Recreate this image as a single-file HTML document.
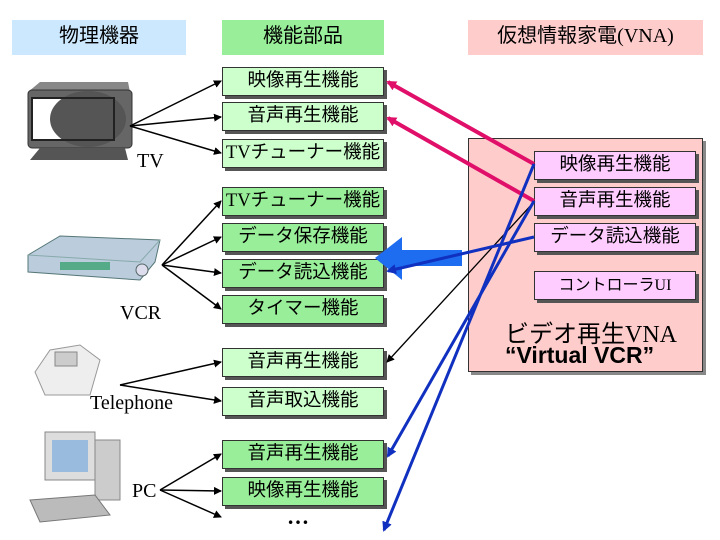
<!DOCTYPE html>
<html><head><meta charset="utf-8"><style>
body{margin:0;width:720px;height:540px;background:#fff;position:relative;overflow:hidden;font-family:"Liberation Serif","Noto Sans CJK JP",serif}
.b{position:absolute;box-sizing:border-box;border:1px solid #333;box-shadow:3px 3px 0 #555;text-align:center;font-family:"Liberation Serif","Noto Sans CJK JP",sans-serif;font-size:18.5px;color:#000;white-space:nowrap}
.g{left:222px;width:162px;height:29px;line-height:27px}
.l{background:#ccffcc}.d{background:#99ee99}
.p{left:534px;width:162px;height:29px;line-height:27px;background:#ffccff}
.t{position:absolute;font-size:20px;font-family:"Liberation Serif","Noto Sans CJK JP",serif;white-space:nowrap}
</style></head><body>
<div class="b" style="left:12px;top:20px;width:174px;height:35px;line-height:33px;background:#cce8ff;border:none;box-shadow:none;font-size:20px">物理機器</div>
<div class="b" style="left:222px;top:20px;width:162px;height:35px;line-height:33px;background:#99ee99;border:none;box-shadow:none;font-size:20px">機能部品</div>
<div class="b" style="left:468px;top:20px;width:235px;height:35px;line-height:33px;background:#ffcccc;border:none;box-shadow:none;font-size:20px">仮想情報家電(VNA)</div>

<div class="b" style="left:468px;top:138px;width:235px;height:234px;background:#ffcccc;box-shadow:3px 3px 0 #888"></div>
<div class="t" style="left:505px;top:314px;font-size:24px">ビデオ再生VNA</div>
<div class="t" style="left:505px;top:342px;font-family:'Liberation Sans',sans-serif;font-weight:bold;font-size:23px">“Virtual VCR”</div>
<div class="b p" style="top:151px">映像再生機能</div>
<div class="b p" style="top:187px">音声再生機能</div>
<div class="b p" style="top:223px">データ読込機能</div>
<div class="b p" style="top:271px;font-size:16px">コントローラUI</div>

<div class="b g l" style="top:67px">映像再生機能</div>
<div class="b g l" style="top:102px">音声再生機能</div>
<div class="b g l" style="top:139px">TVチューナー機能</div>
<div class="b g d" style="top:187px">TVチューナー機能</div>
<div class="b g d" style="top:223px">データ保存機能</div>
<div class="b g d" style="top:259px">データ読込機能</div>
<div class="b g d" style="top:295px">タイマー機能</div>
<div class="b g l" style="top:348px">音声再生機能</div>
<div class="b g l" style="top:387px">音声取込機能</div>
<div class="b g d" style="top:440px">音声再生機能</div>
<div class="b g d" style="top:477px">映像再生機能</div>
<div class="t" style="left:287px;top:504px;font-weight:bold;font-size:22px">…</div>

<div class="t" style="left:137px;top:150px">TV</div>
<div class="t" style="left:120px;top:302px">VCR</div>
<div class="t" style="left:90px;top:392px">Telephone</div>
<div class="t" style="left:132px;top:480px">PC</div>

<svg width="720" height="540" style="position:absolute;left:0;top:0">
<defs>
<marker id="a" markerWidth="8" markerHeight="8" refX="7" refY="4" orient="auto" markerUnits="userSpaceOnUse"><path d="M0,0L8,4L0,8z" fill="#000"/></marker>
<marker id="r" markerWidth="10" markerHeight="10" refX="8" refY="5" orient="auto" markerUnits="userSpaceOnUse"><path d="M0,0L10,5L0,10z" fill="#e0106a"/></marker>
<marker id="u" markerWidth="10" markerHeight="10" refX="8" refY="5" orient="auto" markerUnits="userSpaceOnUse"><path d="M0,0L10,5L0,10z" fill="#1030c0"/></marker>
</defs>
<path d="M28,92 L40,82 L128,82 L130,92 Z" fill="#888"/>
<rect x="28" y="90" width="104" height="58" rx="4" fill="#666" stroke="#333"/>
<rect x="32" y="98" width="82" height="42" fill="#fff" stroke="#222"/>
<ellipse cx="88" cy="119" rx="38" ry="28" fill="#555"/>
<rect x="32" y="98" width="82" height="42" fill="none" stroke="#222" stroke-width="2"/>
<path d="M40,148 L125,148 L128,160 L30,160 Z" fill="#555"/>
<path d="M28,255 L60,236 L160,240 L155,262 L140,280 L28,272 Z" fill="#bcd" stroke="#577"/>
<path d="M28,255 L140,262 L160,240" fill="none" stroke="#8aa"/>
<rect x="60" y="262" width="50" height="8" fill="#5a8"/>
<circle cx="142" cy="270" r="6" fill="#dde" stroke="#566"/>
<path d="M35,372 L50,350 L80,345 L100,360 L90,395 L45,395 Z" fill="#eee" stroke="#999"/>
<rect x="55" y="352" width="22" height="14" fill="#ccc" stroke="#888"/>
<rect x="45" y="432" width="50" height="48" fill="#ddd" stroke="#888"/>
<rect x="52" y="440" width="36" height="32" fill="#9bd"/>
<rect x="95" y="440" width="25" height="60" fill="#ccc" stroke="#888"/>
<path d="M30,500 L95,495 L110,515 L40,522 Z" fill="#bbb" stroke="#777"/>
<g stroke="#000" stroke-width="1.5" fill="none" marker-end="url(#a)">
<line x1="130" y1="126" x2="221" y2="81"/>
<line x1="130" y1="126" x2="221" y2="117"/>
<line x1="130" y1="126" x2="221" y2="153"/>
<line x1="162" y1="265" x2="221" y2="201"/>
<line x1="162" y1="265" x2="221" y2="237"/>
<line x1="162" y1="265" x2="221" y2="273"/>
<line x1="162" y1="265" x2="221" y2="309"/>
<line x1="120" y1="385" x2="221" y2="362"/>
<line x1="120" y1="385" x2="221" y2="401"/>
<line x1="160" y1="490" x2="221" y2="454"/>
<line x1="160" y1="490" x2="221" y2="491"/>
<line x1="160" y1="490" x2="221" y2="517"/>
</g>
<line x1="534" y1="202" x2="387" y2="362" stroke="#000" stroke-width="1.3" marker-end="url(#a)"/>
<path d="M402,237 L402,250 L462,250 L462,266 L402,266 L402,280 L375,258 Z" fill="#1e6cf0"/>
<g stroke="#e0106a" stroke-width="4" marker-end="url(#r)">
<line x1="534" y1="164" x2="388" y2="82"/>
<line x1="534" y1="201" x2="388" y2="118"/>
</g>
<g stroke="#1030c0" stroke-width="3" marker-end="url(#u)">
<line x1="534" y1="237" x2="388" y2="271"/>
<line x1="534" y1="201" x2="388" y2="456"/>
<line x1="534" y1="164" x2="384" y2="530"/>
</g>
</svg>
</body></html>
